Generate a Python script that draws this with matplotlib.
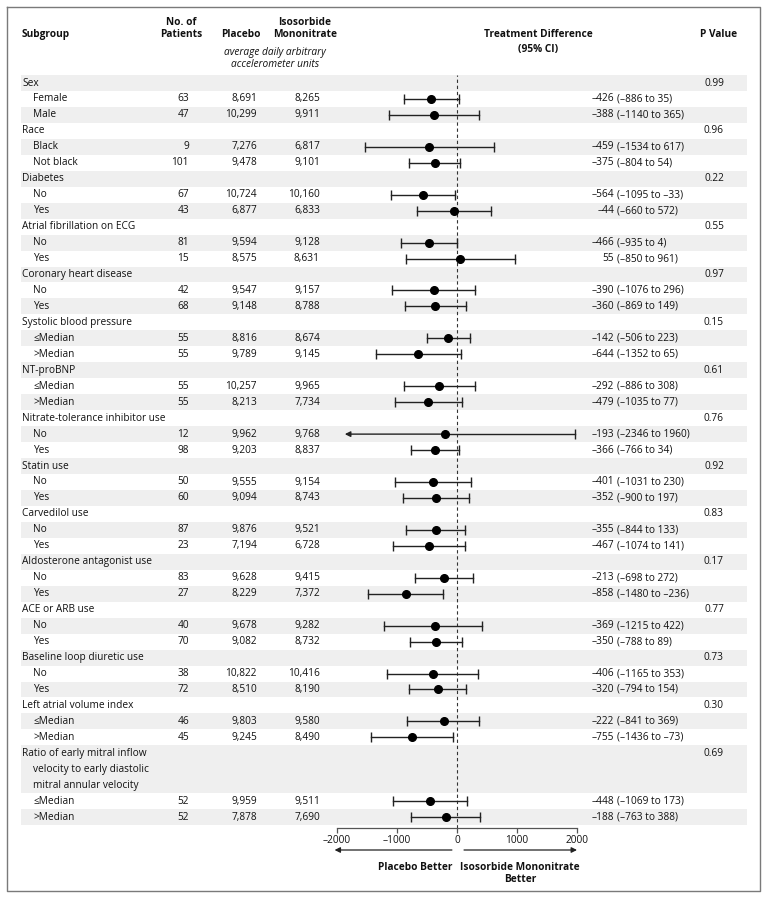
import matplotlib
matplotlib.use("Agg")
import matplotlib.pyplot as plt

plt.rcParams['font.family'] = ['Open Sans', 'DejaVu Sans']

# ---- data ----
groups = ["Sex", "Race", "Diabetes", "Atrial fibrillation on ECG", "Coronary heart disease",
          "Systolic blood pressure", "NT-proBNP", "Nitrate-tolerance inhibitor use", "Statin use",
          "Carvedilol use", "Aldosterone antagonist use", "ACE or ARB use",
          "Baseline loop diuretic use", "Left atrial volume index",
          "Ratio of early mitral inflow\nvelocity to early diastolic\nmitral annular velocity"]
p_values = ["0.99", "0.96", "0.22", "0.55", "0.97", "0.15", "0.61", "0.76", "0.92",
            "0.83", "0.17", "0.77", "0.73", "0.30", "0.69"]
levels = [["Female", "Male"], ["Black", "Not black"], ["No", "Yes"], ["No", "Yes"], ["No", "Yes"],
          ["≤Median", ">Median"], ["≤Median", ">Median"], ["No", "Yes"], ["No", "Yes"],
          ["No", "Yes"], ["No", "Yes"], ["No", "Yes"], ["No", "Yes"],
          ["≤Median", ">Median"], ["≤Median", ">Median"]]
n_patients = [[63, 47], [9, 101], [67, 43], [81, 15], [42, 68], [55, 55], [55, 55], [12, 98],
              [50, 60], [87, 23], [83, 27], [40, 70], [38, 72], [46, 45], [52, 52]]
placebo = [[8691, 10299], [7276, 9478], [10724, 6877], [9594, 8575], [9547, 9148], [8816, 9789],
           [10257, 8213], [9962, 9203], [9555, 9094], [9876, 7194], [9628, 8229], [9678, 9082],
           [10822, 8510], [9803, 9245], [9959, 7878]]
ismn = [[8265, 9911], [6817, 9101], [10160, 6833], [9128, 8631], [9157, 8788], [8674, 9145],
        [9965, 7734], [9768, 8837], [9154, 8743], [9521, 6728], [9415, 7372], [9282, 8732],
        [10416, 8190], [9580, 8490], [9511, 7690]]
diff = [[-426, -388], [-459, -375], [-564, -44], [-466, 55], [-390, -360], [-142, -644],
        [-292, -479], [-193, -366], [-401, -352], [-355, -467], [-213, -858], [-369, -350],
        [-406, -320], [-222, -755], [-448, -188]]
ci_low = [[-886, -1140], [-1534, -804], [-1095, -660], [-935, -850], [-1076, -869], [-506, -1352],
          [-886, -1035], [-2346, -766], [-1031, -900], [-844, -1074], [-698, -1480], [-1215, -788],
          [-1165, -794], [-841, -1436], [-1069, -763]]
ci_high = [[35, 365], [617, 54], [-33, 572], [4, 961], [296, 149], [223, 65], [308, 77],
           [1960, 34], [230, 197], [133, 141], [272, -236], [422, 89], [353, 154], [369, -73],
           [173, 388]]
xticks = [-2000, -1000, 0, 1000, 2000]


def fmt(v):
    return str(v).replace("-", "\u2013")


W, H = 769, 899
Y0, DY = 83, 15.96  # first row centre (px), row pitch (px)


def fy(i):
    return 1 - (Y0 + DY * i) / H


fig = plt.figure(figsize=(W / 100, H / 100), dpi=100)
bg = fig.add_axes([0, 0, 1, 1])
bg.set_xlim(0, W)
bg.set_ylim((H - Y0) / DY, -Y0 / DY)
bg.axis('off')

# frame
bg.plot([7, 760, 760, 7, 7], [(7 - Y0) / DY, (7 - Y0) / DY, (891 - Y0) / DY, (891 - Y0) / DY, (7 - Y0) / DY],
        color='#7a7a7a', lw=1.0)

FS = 7.3
hb = dict(fontsize=FS, fontweight='bold', color='#111')
# headers
bg.text(22, -3.07, "Subgroup", ha='left', va='center', **hb)
bg.text(181, -3.82, "No. of", ha='center', va='center', **hb)
bg.text(181, -3.07, "Patients", ha='center', va='center', **hb)
bg.text(241, -3.07, "Placebo", ha='center', va='center', **hb)
bg.text(305, -3.82, "Isosorbide", ha='center', va='center', **hb)
bg.text(305, -3.07, "Mononitrate", ha='center', va='center', **hb)
bg.text(275, -1.94, "average daily arbitrary", ha='center', va='center', fontsize=FS, style='italic', color='#111')
bg.text(275, -1.19, "accelerometer units", ha='center', va='center', fontsize=FS, style='italic', color='#111')
bg.text(538, -3.07, "Treatment Difference", ha='center', va='center', **hb)
bg.text(538, -2.07, "(95% CI)", ha='center', va='center', **hb)
bg.text(719, -3.07, "P Value", ha='center', va='center', **hb)

ax = fig.add_axes([337 / W, fy(46.65), 240 / W, fy(-0.5) - fy(46.65)])
ax.set_xlim(-2000, 2000)
ax.set_ylim(46.65, -0.5)
ax.patch.set_alpha(0)

tc = dict(fontsize=FS, color='#111', va='center')
line = 0
row = 0
for g in range(len(groups)):
    glines = groups[g].split("\n")
    nl = len(glines)
    if row % 2 == 0:
        bg.axhspan(line - 0.5, line + nl - 0.5, xmin=21 / W, xmax=747 / W, color='#efefef', lw=0, zorder=0)
    for k, t in enumerate(glines):
        bg.text(22 if k == 0 else 33, line + k, t, ha='left', **tc)
    bg.text(714, line, p_values[g], ha='center', **tc)
    line += nl
    row += 1
    for j in range(len(levels[g])):
        if row % 2 == 0:
            bg.axhspan(line - 0.5, line + 0.5, xmin=21 / W, xmax=747 / W, color='#efefef', lw=0, zorder=0)
        bg.text(33, line, levels[g][j], ha='left', **tc)
        bg.text(189, line, f"{n_patients[g][j]:,}", ha='right', **tc)
        bg.text(257, line, f"{placebo[g][j]:,}", ha='right', **tc)
        bg.text(320, line, f"{ismn[g][j]:,}", ha='right', **tc)
        bg.text(614, line, fmt(diff[g][j]), ha='right', **tc)
        bg.text(617, line, f"({fmt(ci_low[g][j])} to {fmt(ci_high[g][j])})", ha='left', **tc)

        lo, hi, est = ci_low[g][j], ci_high[g][j], diff[g][j]
        if lo < -2000:
            ax.annotate('', xy=(-1870, line), xytext=(est, line),
                        arrowprops=dict(arrowstyle='-|>', lw=1.0, color='#222', mutation_scale=8,
                                        shrinkA=0, shrinkB=0))
            ax.plot([est, hi], [line, line], color='#222', lw=1.0)
            ax.plot([hi], [line], marker='|', ms=6.5, mew=1.0, color='#222')
        else:
            ax.plot([lo, hi], [line, line], color='#222', lw=1.0)
            ax.plot([lo, hi], [line, line], ls='none', marker='|', ms=6.5, mew=1.0, color='#222')
        ax.plot([est], [line], marker='o', ms=5.5, color='black', zorder=3)
        line += 1
        row += 1

ax.axvline(0, color='#333', lw=0.8, ls=(0, (3, 2.5)), zorder=1)
for s in ['top', 'left', 'right']:
    ax.spines[s].set_visible(False)
ax.spines['bottom'].set_color('#555')
ax.spines['bottom'].set_linewidth(0.9)
ax.set_yticks([])
ax.set_xticks(xticks)
ax.set_xticklabels([fmt(v) for v in xticks], fontsize=FS, color='#111')
ax.tick_params(axis='x', direction='out', length=3.5, width=0.9, color='#555', pad=2)

# direction arrows and labels
ya = (850 - Y0) / DY
ax.annotate('', xy=(-2040, ya), xytext=(-85, ya), annotation_clip=False,
            arrowprops=dict(arrowstyle='-|>', lw=0.9, color='#222', mutation_scale=8, shrinkA=0, shrinkB=0))
ax.annotate('', xy=(2000, ya), xytext=(117, ya), annotation_clip=False,
            arrowprops=dict(arrowstyle='-|>', lw=0.9, color='#222', mutation_scale=8, shrinkA=0, shrinkB=0))
bg.text(415, (867 - Y0) / DY, "Placebo Better", ha='center', va='center', **hb)
bg.text(520, (867 - Y0) / DY, "Isosorbide Mononitrate", ha='center', va='center', **hb)
bg.text(520, (880 - Y0) / DY, "Better", ha='center', va='center', **hb)

fig.savefig("out.png", dpi=100)
